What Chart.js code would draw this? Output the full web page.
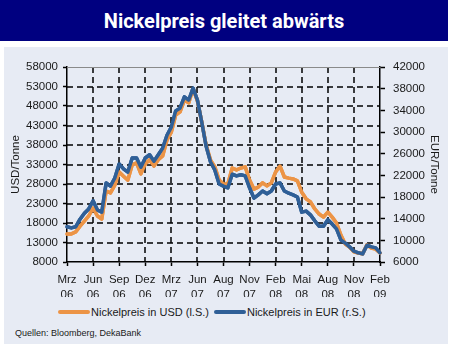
<!DOCTYPE html>
<html lang="de">
<head>
<meta charset="utf-8">
<title>Nickelpreis gleitet abwärts</title>
<script src="https://cdn.jsdelivr.net/npm/chart.js@4/dist/chart.umd.min.js"></script>
<style>
  html, body { margin: 0; padding: 0; background: #fff; }
  body { position: relative; width: 451px; height: 350px; overflow: hidden; font-family: 'Liberation Sans', Arial, sans-serif; }
  #titleBar {
    position: absolute; left: 0; top: 0; width: 448px; height: 41px;
    background: #000080; color: #fff;
    font: 700 20px Roboto, 'Liberation Sans', sans-serif;
    line-height: 43px; text-align: center;
  }
  #panel { position: absolute; left: 4px; top: 47px; width: 444px; height: 297px; background: #e7ebf4; }
  #chartBox { position: absolute; left: 0; top: 0; width: 444px; height: 250px; }
  #legend { position: absolute; left: 54px; top: 259px; display: flex; align-items: center; font-size: 11px; color: #1a1a1a; white-space: nowrap; }
  #legend .item { display: flex; align-items: center; margin-right: 5px; }
  #legend .swatch { display: inline-block; width: 32px; height: 4px; border-radius: 2px; margin-right: 1px; }
  #source { position: absolute; left: 11px; top: 281px; font-size: 9px; color: #1a1a1a; }
</style>
</head>
<body>
<div id="titleBar">Nickelpreis gleitet abwärts</div>
<div id="panel">
  <div id="chartBox"><canvas id="nickelChart" width="444" height="250"></canvas></div>
  <div id="legend"></div>
  <div id="source">Quellen: Bloomberg, DekaBank</div>
</div>
<script>
// Achsenbeschriftung (eine Beschriftung je 6 Datenpunkte)
const tickMonths = ['Mrz', 'Jun', 'Sep', 'Dez', 'Mrz', 'Jun', 'Aug', 'Nov', 'Feb', 'Mai', 'Aug', 'Nov', 'Feb'];
const tickYears = ['06', '06', '06', '06', '07', '07', '07', '07', '08', '08', '08', '08', '09'];
const pointsPerTick = 6;

// Nickelpreis in USD/Tonne (linke Skala)
const nickelUsd = [
  15200, 15200, 15700, 17200, 18500, 19800, 21800, 19800, 19000, 26200,
  25700, 27700, 31100, 30000, 29000, 32900, 33400, 30600, 33100, 34200,
  32600, 34200, 35200, 39300, 41300, 45700, 46500, 49500, 48800, 52400,
  49300, 43900, 38000, 34200, 32400, 29000, 28000, 28000, 32100, 31600,
  32100, 32400, 29000, 26700, 27200, 28300, 27500, 28300, 31100, 32600,
  29800, 29500, 29300, 28800, 25900, 24200, 23400, 21600, 20300, 19500,
  20800, 19500, 18000, 14900, 12600, 11800, 10600, 10300, 10100, 12400,
  11600, 11300, 10300
];

// Nickelpreis in EUR/Tonne (rechte Skala)
const nickelEur = [
  12500, 12300, 12500, 13900, 15000, 15800, 17300, 15600, 15200, 20600,
  20000, 21500, 24100, 23200, 22600, 25200, 25200, 23500, 25200, 25800,
  24600, 25800, 27000, 29400, 30900, 33900, 34400, 36500, 35900, 38100,
  35900, 31800, 27400, 24500, 23000, 20400, 20000, 19700, 22200, 21900,
  22100, 21900, 19700, 17800, 18400, 19100, 18600, 19100, 20400, 20600,
  19100, 18700, 18400, 18000, 15200, 15400, 14700, 13600, 12600, 12600,
  13800, 13000, 12100, 10100, 9500, 8800, 8000, 7700, 7500, 9100,
  8800, 8600, 7700
];

const labels = nickelUsd.map((_, i) =>
  i % pointsPerTick === 0 ? [tickMonths[i / pointsPerTick], tickYears[i / pointsPerTick]] : ''
);

const tickFont = { family: "'Liberation Sans', Arial, sans-serif", size: 11.5, lineHeight: 1.3 };
const textColor = '#1a1a1a';
const dashOn = 6;
const dashOff = 4;

// Strichlinie als einzelne Rechtecke
function dashedLine(ctx, x1, y1, x2, y2, w) {
  const horizontal = y1 === y2;
  const len = horizontal ? x2 - x1 : y2 - y1;
  for (let s = 0; s < len; s += dashOn + dashOff) {
    const e = Math.min(s + dashOn, len);
    if (horizontal) ctx.fillRect(x1 + s, y1 - w / 2, e - s, w);
    else ctx.fillRect(x1 - w / 2, y1 + s, w, e - s);
  }
}

// Gestricheltes Gitter und graue Oberkante, danach die Linien erneut darüber
const plotFrame = {
  id: 'plotFrame',
  afterDatasetsDraw(chart) {
    const { ctx, chartArea: a, scales } = chart;
    ctx.save();
    ctx.fillStyle = '#000';
    scales.y.ticks.forEach((t, i) => {
      if (i === 0 || i === scales.y.ticks.length - 1) return;
      const py = Math.round(scales.y.getPixelForTick(i));
      dashedLine(ctx, a.left, py, a.right, py, 1.5);
    });
    scales.x.ticks.forEach((t, i) => {
      if (i === 0 || i === scales.x.ticks.length - 1) return;
      const px = Math.round(scales.x.getPixelForTick(i));
      dashedLine(ctx, px, a.top, px, a.bottom, 1.5);
    });
    ctx.fillStyle = '#8a8a8a';
    ctx.fillRect(a.left, Math.round(a.top), a.right - a.left, 1);
    ctx.restore();

    const metas = chart.getSortedVisibleDatasetMetas();
    for (let i = metas.length - 1; i >= 0; i--) {
      if (metas[i].dataset) metas[i].dataset.draw(ctx, a);
    }
  },
};

const chart = new Chart(document.getElementById('nickelChart'), {
  type: 'line',
  data: {
    labels: labels,
    datasets: [
      {
        label: 'Nickelpreis in USD (l.S.)',
        data: nickelUsd,
        yAxisID: 'y',
        borderColor: '#ec9446',
        backgroundColor: '#ec9446',
        borderWidth: 3.5,
        pointRadius: 0,
        tension: 0,
        borderJoinStyle: 'round',
        borderCapStyle: 'round',
        order: 1,
      },
      {
        label: 'Nickelpreis in EUR (r.S.)',
        data: nickelEur,
        yAxisID: 'y1',
        borderColor: '#2f5f97',
        backgroundColor: '#2f5f97',
        borderWidth: 3.5,
        pointRadius: 0,
        tension: 0,
        borderJoinStyle: 'round',
        borderCapStyle: 'round',
        order: 0,
      },
    ],
  },
  options: {
    responsive: false,
    animation: false,
    layout: { padding: { top: 20, left: 0, right: 0, bottom: 0 } },
    plugins: {
      legend: { display: false },
      tooltip: { enabled: false },
    },
    scales: {
      x: {
        type: 'category',
        afterBuildTicks: (scale) => {
          scale.ticks = scale.ticks.filter((t) => t.value % pointsPerTick === 0);
        },
        afterFit: (scale) => { scale.height = 35; },
        ticks: { autoSkip: false, maxRotation: 0, padding: 6, color: textColor, font: tickFont },
        grid: { drawOnChartArea: false, tickLength: 4, tickColor: '#000', tickWidth: 1.5 },
        border: { color: '#000', width: 1.5 },
      },
      y: {
        position: 'left',
        min: 8000,
        max: 58000,
        afterFit: (scale) => { scale.width = 63; },
        ticks: { stepSize: 5000, padding: 5, color: textColor, font: tickFont, callback: (v) => String(v) },
        grid: { drawOnChartArea: false, tickLength: 4, tickColor: '#000', tickWidth: 1.5 },
        border: { color: '#000', width: 1.5 },
        title: { display: true, text: 'USD/Tonne', color: textColor, font: tickFont, padding: { top: 4, bottom: 4 } },
      },
      y1: {
        position: 'right',
        min: 6000,
        max: 42000,
        afterFit: (scale) => { scale.width = 68; },
        ticks: { stepSize: 4000, padding: 8, color: textColor, font: tickFont, callback: (v) => String(v) },
        grid: { drawOnChartArea: false, tickLength: 5, tickColor: '#000', tickWidth: 1.5 },
        border: { color: '#000', width: 1.5 },
        title: { display: true, text: 'EUR/Tonne', color: textColor, font: tickFont, padding: { top: 6, bottom: 4 } },
      },
    },
  },
  plugins: [plotFrame],
});

// Legende aus den Datensätzen aufbauen
const legendBox = document.getElementById('legend');
chart.data.datasets.forEach((ds) => {
  const item = document.createElement('span');
  item.className = 'item';
  item.innerHTML = `<span class="swatch" style="background:${ds.borderColor}"></span>${ds.label}`;
  legendBox.appendChild(item);
});
</script>
</body>
</html>
